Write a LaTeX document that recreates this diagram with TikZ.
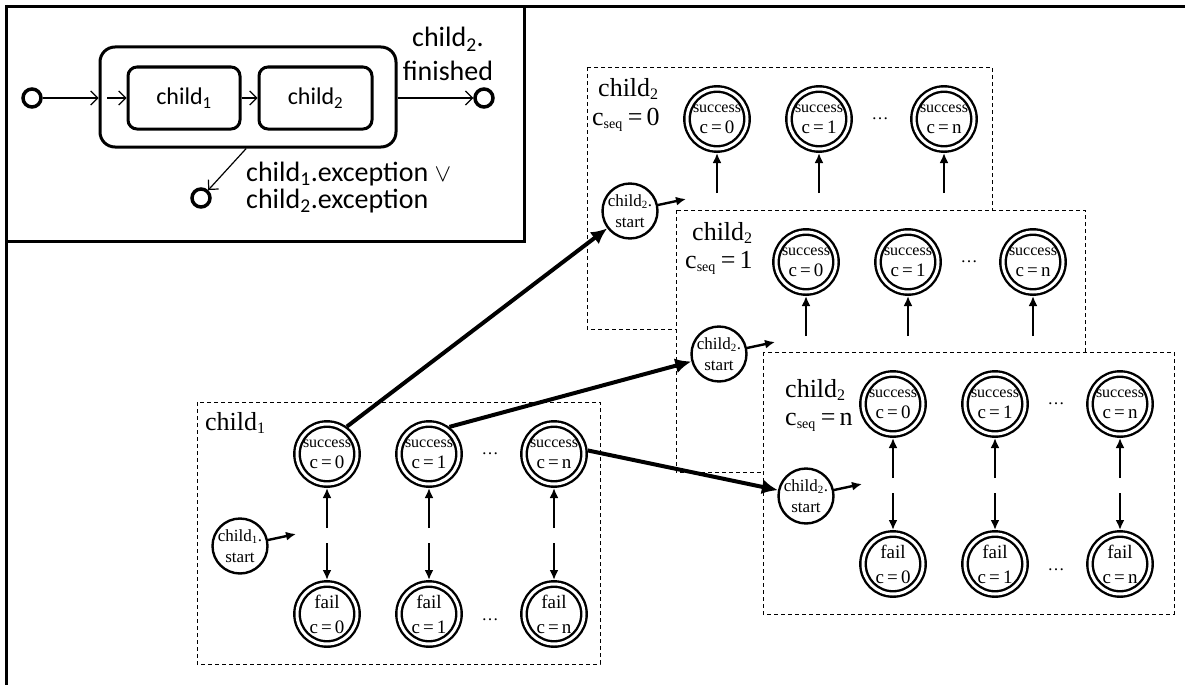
\documentclass[tikz,border=0pt]{standalone}
\usepackage{fontspec}
\setmainfont{Liberation Serif}
\newfontfamily\insetfont{Carlito}
\usetikzlibrary{arrows.meta}

% small lowered index at a fixed size
\newcommand\lowidx[2][16]{\textsubscript{\fontsize{#1}{#1}\selectfont #2}}
% contents of the counted states
\newcommand\oktext[1]{{\fontsize{16}{17}\selectfont success}\\c\,=\,#1}
\newcommand\failtext[1]{fail\\[4pt]c\,=\,#1}
\newcommand\starttext[1]{child\lowidx[11]{#1}.\\start}

\tikzset{
  frame/.style={draw, dash pattern=on 4pt off 3pt, line width=0.9pt, fill=white},
  okstate/.style={circle, draw, line width=2.4pt, double, double distance=3pt,
    minimum size=60pt, inner sep=0pt, outer sep=4pt, align=center,
    font=\fontsize{19}{21}\selectfont},
  startstate/.style={circle, draw, fill=white, line width=2.4pt, minimum size=52pt,
    inner sep=0pt, align=center, font=\fontsize{17}{21}\selectfont},
  dots/.style={inner sep=0pt, font=\fontsize{17}{17}\selectfont},
  framelabel/.style={anchor=base west, inner sep=0pt, font=\fontsize{26}{26}\selectfont},
  trans/.style={line width=2.4pt, -{Latex[length=10pt,width=9pt]}},
  jump/.style={line width=4pt, -{Latex[length=16pt,width=15pt]}},
  umlbox/.style={draw, line width=3pt, rounded corners=9pt, minimum height=62pt,
    inner sep=0pt, font=\insetfont\fontsize{24}{24}\selectfont},
  pseudo/.style={circle, draw, line width=3.5pt, minimum size=18pt, inner sep=0pt},
  umlarr/.style={line width=1.2pt, -{Straight Barb[length=7pt,width=14pt,line width=1.2pt]}},
  umllabel/.style={inner sep=0pt, font=\insetfont\fontsize{28}{28}\selectfont},
}

% fail states of one automaton, reached from below the success states
\newcommand\failrow{%
  \node[okstate] (f0) at (130,212) {\failtext{0}};
  \node[okstate] (f1) at (232,212) {\failtext{1}};
  \node[okstate] (fn) at (357,212) {\failtext{n}};
  \node[dots] (fdots) at (293,218) {\dots};
  \foreach \k/\xx in {0/130,1/232,n/357}{
    \coordinate (d\k) at (\xx,141);
    \draw[trans] (d\k) -- (f\k);
  }}

% one automaton: success states for c = 0, 1, ..., n and its start state;
% #5 adds the parts that stay uncovered (the fail row)
\newcommand\chainframe[5]{%
  \begin{scope}[shift={#2}, name prefix=#1-]
    \draw[frame] (0,0) rectangle (#3,262);
    \node[okstate] (s0) at (130,52) {\oktext{0}};
    \node[okstate] (s1) at (232,52) {\oktext{1}};
    \node[okstate] (sn) at (357,52) {\oktext{n}};
    \node[dots] (sdots) at (293,52) {\dots};
    \node[startstate] (start) at (43,144) {\starttext{#4}};
    \coordinate (go) at (99,132);
    \foreach \k/\xx in {0/130,1/232,n/357}{
      \coordinate (u\k) at (\xx,126);
      \draw[trans] (u\k) -- (s\k);
    }
    \draw[trans] (start) -- (go);
    #5
  \end{scope}}

\begin{document}
\begin{tikzpicture}[x=1pt, y=-1pt]
\useasboundingbox (0,0) rectangle (1185,685);

% page rules
\draw[line width=3pt] (5,7) -- (1185,7);
\draw[line width=3pt] (6,5) -- (6,685);

% sequence state chart
\draw[line width=3pt, fill=white] (6,7) rectangle (524,241);
\node[pseudo] (init) at (32,98) {};
\node[umlbox, minimum width=296pt, minimum height=100pt, rounded corners=15pt] (seq) at (248,97) {};
\node[umlbox, minimum width=112pt] (ch1) at (184,98) {child\textsubscript{1}};
\node[umlbox, minimum width=113pt] (ch2) at (315.5,98) {child\textsubscript{2}};
\node[pseudo] (fin) at (484,98) {};
\node[pseudo] (exc) at (201,198) {};
\coordinate (seqin) at (107,98);
\draw[umlarr] (init) -- (seq.west |- init);
\draw[umlarr] (seqin) -- (ch1);
\draw[umlarr] (ch1) -- (ch2);
\draw[umlarr] (seq.east |- fin) -- (fin);
\draw[umlarr] (seq.-92) -- (exc);
\node[umllabel, anchor=base] (fin1) at (448,47) {child\textsubscript{2}.};
\node[umllabel, anchor=base] (fin2) at (448,80) {finished};
\node[umllabel, anchor=base west] (exc1) at (246,181) {child\textsubscript{1}.exception $\vee$};
\node[umllabel, anchor=base west] (exc2) at (246,208) {child\textsubscript{2}.exception};

% automaton of the first child
\chainframe{c1}{(197,402)}{403}{1}{\failrow}
\node[framelabel] (c1-label) at (205,430) {child\lowidx{1}};

% automata of the second child, one per value of c_seq (stacked)
\chainframe{q0}{(587,67)}{405}{2}{}
\node[framelabel] (q0-label) at (598,96) {child\lowidx{2}};
\node[framelabel] (q0-cseq) at (592,125) {c\lowidx[14]{seq}\kern5pt=\kern4pt0};

\chainframe{q1}{(676,210)}{409}{2}{}
\node[framelabel] (q1-label) at (692,240) {child\lowidx{2}};
\node[framelabel] (q1-cseq) at (685,268) {c\lowidx[14]{seq}\kern5pt=\kern4pt1};

\chainframe{qn}{(763,352)}{411}{2}{\failrow}
\node[framelabel] (qn-label) at (785,397) {child\lowidx{2}};
\node[framelabel] (qn-cseq) at (785,425) {c\lowidx[14]{seq}\kern5pt=\kern4pt n};

% hand-over from the first child's success states
\draw[jump] (c1-s0.54) -- (q0-start);
\draw[jump] (c1-s1.53) -- (q1-start);
\draw[jump] (c1-sn.6) -- (qn-start);
\end{tikzpicture}
\end{document}
